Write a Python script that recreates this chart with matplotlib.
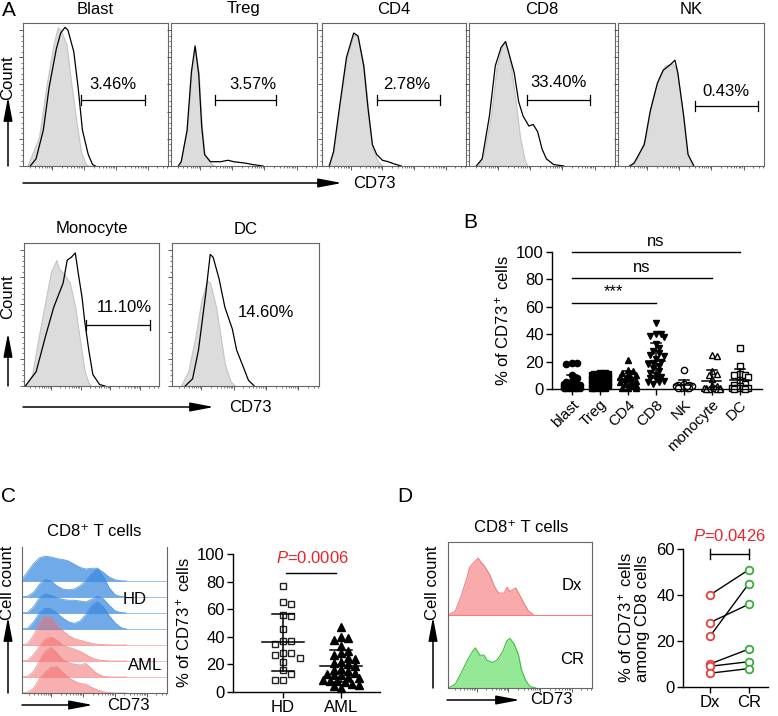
import numpy as np
import matplotlib
matplotlib.use('Agg')
import matplotlib.pyplot as plt

plt.rcParams['font.family'] = ['Liberation Sans', 'DejaVu Sans']
plt.rcParams['mathtext.fontset'] = 'custom'
plt.rcParams['mathtext.rm'] = 'Liberation Sans'
plt.rcParams['mathtext.it'] = 'Liberation Sans:italic'

W, H = 778, 716

# ---- panel A: flow histograms (x, height in % of box) ----
blast_x_iso = [3, 11, 16, 21, 24, 26, 30, 33, 37, 40, 43, 45]
blast_iso = [0, 20, 55, 85, 97, 95, 85, 60, 30, 10, 2, 0]
blast_x_cd73 = [5, 9, 14, 18, 23, 26, 29, 31, 35, 38, 41, 45, 48, 50]
blast_cd73 = [0, 5, 25, 55, 82, 93, 97, 95, 80, 55, 25, 8, 1, 0]

treg_x_iso = [6, 11, 14, 16.5, 19, 21, 23, 27, 30]
treg_iso = [0, 25, 65, 83, 65, 30, 8, 2, 0]
treg_x_cd73 = [5, 7, 11, 14, 16.5, 19, 21, 23, 27, 34, 39, 43, 47, 51, 56, 63]
treg_cd73 = [0, 3, 25, 66, 84, 64, 28, 8, 3, 3, 4, 3, 2.5, 2, 1, 0]

cd4_x_iso = [5, 8, 12, 17, 22, 25, 29, 32, 35, 39, 42]
cd4_iso = [0, 10, 40, 75, 92, 90, 70, 40, 12, 3, 0]
cd4_x_cd73 = [5, 8, 12, 17, 22, 25, 29, 32, 35, 38, 42, 46, 50, 55]
cd4_cd73 = [0, 10, 40, 76, 93, 91, 70, 40, 15, 8, 4, 3, 1.5, 0]

cd8_x_iso = [6, 10, 15, 19, 23, 25, 28, 32, 35, 38, 40]
cd8_iso = [0, 8, 35, 70, 85, 87, 75, 45, 20, 5, 0]
cd8_x_cd73 = [5, 9, 14, 18, 22, 25, 27, 31, 34, 37, 41, 44, 47, 50, 53, 58, 65]
cd8_cd73 = [0, 5, 35, 70, 83, 87, 80, 65, 45, 35, 28, 29, 24, 12, 5, 1, 0]

nk_x_iso = [8, 13, 19, 23, 28, 32, 37, 40, 44, 47, 51]
nk_iso = [0, 5, 20, 45, 62, 70, 72, 68, 40, 10, 0]
nk_x_cd73 = [8, 11, 18, 22, 27, 31, 36, 39, 41, 45, 48, 52]
nk_cd73 = [0, 2, 15, 38, 58, 67, 71, 74, 65, 35, 8, 0]

mono_x_iso = [1, 6, 11, 16, 20, 24, 26, 30, 34, 38, 41, 45, 48, 50]
mono_iso = [0, 8, 35, 60, 80, 88, 82, 78, 72, 55, 35, 10, 2, 0]
mono_x_cd73 = [1, 9, 16, 22, 29, 32, 35, 38, 40, 43, 45, 48, 51, 56, 60]
mono_cd73 = [0, 10, 35, 55, 72, 88, 90, 93, 80, 62, 45, 25, 8, 1, 0]

dc_x_iso = [6, 11, 16, 20, 24, 26, 30, 33, 36, 40, 43]
dc_iso = [0, 10, 35, 60, 74, 72, 55, 35, 15, 3, 0]
dc_x_cd73 = [9, 14, 18, 23, 26, 28, 32, 36, 41, 44, 49, 52, 56]
dc_cd73 = [0, 5, 25, 65, 92, 90, 75, 55, 40, 25, 12, 4, 0]

a_names = ['Blast', 'Treg', 'CD4', 'CD8', 'NK', 'Monocyte', 'DC']
a_pct = ['3.46%', '3.57%', '2.78%', '33.40%', '0.43%', '11.10%', '14.60%']

# ---- panel B ----
b_cats = ['blast', 'Treg', 'CD4', 'CD8', 'NK', 'monocyte', 'DC']
b_blast = [19, 19, 18, 10, 8, 6, 5, 4, 4, 3, 3, 3, 2, 2, 2, 2, 1, 1, 1, 1, 0.5, 0.5, 0.5, 0.5, 1.5]
b_treg = [12, 12, 11, 11, 10, 10, 9, 9, 8, 8, 7, 7, 6, 6, 5, 5, 5, 4, 4, 4, 3, 3, 3, 2, 2, 2, 1, 1, 1, 0.5]
b_cd4 = [21, 14, 13, 12, 11, 10, 9, 8, 7, 6, 5, 5, 4, 3, 2, 1, 1, 0.5]
b_cd8 = [48, 40, 40, 39, 38, 33, 30, 28, 26, 25, 24, 22, 20, 19, 18, 17, 15, 13, 12, 10, 9, 8, 7, 6, 5, 5, 4]
b_nk = [14, 4, 3, 3, 2, 2, 1.5, 1, 1, 0.5, 0.5, 2]
b_mono = [25, 24, 13, 11, 10, 7, 3, 2, 1, 1, 0.5, 0.5, 0.5, 0.3, 0.3, 0.2, 0.2]
b_dc = [30, 17, 11, 10, 10, 9, 5, 4, 3, 2, 1, 1, 0.5, 0.5, 0.3, 0.3]
b_sig = [(6, 100, 'ns'), (5, 81, 'ns'), (3, 63, '***')]

# ---- panel C ----
c_x = [0, 4, 8, 12, 16, 20, 24, 28, 32, 36, 40, 44, 48, 52, 56, 60, 64, 68, 72]
hd1 = [0.1, 0.6, 1.1, 1.45, 1.55, 1.5, 1.4, 1.35, 1.25, 1.05, 0.85, 0.75, 0.8, 0.8, 0.55, 0.25, 0.08, 0.02, 0]
hd2 = [0, 0.05, 0.3, 0.8, 1.1, 1.0, 0.7, 0.5, 0.45, 0.5, 0.7, 1.0, 1.45, 1.75, 1.3, 0.6, 0.15, 0.03, 0]
hd3 = [0, 0.05, 0.4, 0.95, 1.2, 1.1, 0.95, 0.85, 0.8, 0.8, 0.75, 0.7, 0.85, 1.05, 0.9, 0.5, 0.15, 0.03, 0]
hd4 = [0, 0.05, 0.45, 1.0, 1.3, 1.25, 1.0, 0.7, 0.45, 0.35, 0.5, 0.9, 1.45, 1.7, 1.4, 0.85, 0.4, 0.1, 0]
aml1 = [0, 0.1, 0.6, 1.4, 1.8, 1.7, 1.3, 0.9, 0.6, 0.4, 0.3, 0.2, 0.1, 0.05, 0.02, 0, 0, 0, 0]
aml2 = [0, 0.05, 0.4, 0.9, 1.35, 1.5, 1.3, 1.0, 0.85, 0.75, 0.6, 0.4, 0.2, 0.08, 0.03, 0, 0, 0, 0]
aml3 = [0, 0.05, 0.35, 1.0, 1.6, 1.85, 1.5, 1.1, 0.9, 0.8, 0.75, 0.85, 0.5, 0.2, 0.05, 0, 0, 0, 0]
aml4 = [0, 0.05, 0.3, 0.9, 1.3, 1.6, 1.65, 1.3, 0.95, 0.75, 0.6, 0.55, 0.35, 0.2, 0.08, 0.02, 0, 0, 0]
c_hd = [37, 9, 77, 65, 64, 56, 55, 46, 37, 35, 28, 28, 27, 25, 22, 16, 13, 8.5]
c_aml = [47, 40, 39, 38, 33, 30, 28, 27, 25, 24, 22, 21, 20, 19, 17, 16, 15, 14, 13, 12, 12,
         11, 10, 9, 8, 8, 7, 6, 5, 4, 3]

# ---- panel D ----
d_x_dx = [0, 5, 9, 13, 15, 17, 21, 23, 25, 29, 32, 35, 39, 41, 43, 47, 49, 53, 56, 59]
d_dx = [0, 0.05, 0.25, 0.5, 0.65, 0.7, 0.78, 0.72, 0.68, 0.55, 0.4, 0.3, 0.3, 0.38, 0.32, 0.37, 0.3, 0.15, 0.05, 0.01]
d_x_cr = [0, 5, 9, 14, 17, 19, 22, 25, 27, 31, 34, 38, 41, 43, 46, 49, 51, 54, 57, 61]
d_cr = [0, 0.05, 0.2, 0.4, 0.5, 0.55, 0.45, 0.45, 0.38, 0.35, 0.38, 0.5, 0.65, 0.68, 0.6, 0.45, 0.25, 0.1, 0.02, 0]
d_pre = [40, 28, 22, 10, 9, 6]
d_post = [51, 36, 45, 16.5, 11, 8]

FS = 12
fig = plt.figure(figsize=(W / 100, H / 100), dpi=100)


def px_axes(x0, y0, x1, y1):
    return fig.add_axes([x0 / W, 1 - y1 / H, (x1 - x0) / W, (y1 - y0) / H])


def flow_box(ax, ymax=100, top=True):
    ax.set_xlim(0, 100)
    ax.set_ylim(0, ymax)
    for s in ax.spines.values():
        s.set_color('#666')
        s.set_linewidth(0.8)
    ax.spines['top'].set_visible(top)
    minors = []
    for d0 in [-2, 20, 42, 64, 86]:
        minors += [d0 + 22 * np.log10(k) for k in range(2, 10)]
    ax.set_xticks([20, 42, 64, 86])
    ax.set_xticks([m for m in minors if 0 < m < 100], minor=True)
    ax.set_yticks(np.linspace(0, ymax * 0.95, 6))
    ax.set_yticks(np.linspace(0, ymax * 0.95, 26), minor=True)
    ax.tick_params(which='both', direction='out', length=3, width=0.6, color='#444',
                   labelbottom=False, labelleft=False)
    ax.tick_params(which='minor', length=1.5, width=0.5)


def gate(ax, x0, x1, y):
    ax.plot([x0, x1], [y, y], color='k', lw=0.9)
    ax.plot([x0, x0], [y - 3.5, y + 3.5], color='k', lw=0.9)
    ax.plot([x1, x1], [y - 3.5, y + 3.5], color='k', lw=0.9)


a_boxes = [(23, 23, 168, 166), (171, 23, 317, 166), (322, 23, 466, 166), (469, 23, 615, 166),
           (618, 23, 764, 166), (24, 243, 159, 386), (172, 243, 319, 386)]
a_curves = [(blast_x_iso, blast_iso, blast_x_cd73, blast_cd73),
            (treg_x_iso, treg_iso, treg_x_cd73, treg_cd73),
            (cd4_x_iso, cd4_iso, cd4_x_cd73, cd4_cd73),
            (cd8_x_iso, cd8_iso, cd8_x_cd73, cd8_cd73),
            (nk_x_iso, nk_iso, nk_x_cd73, nk_cd73),
            (mono_x_iso, mono_iso, mono_x_cd73, mono_cd73),
            (dc_x_iso, dc_iso, dc_x_cd73, dc_cd73)]
a_gates = [(40, 84, 46), (30, 72, 46), (38, 82, 46), (40, 83, 46), (53, 96, 42), (46, 93, 43), None]
a_lab = [(62, 52), (56, 52), (59, 52), (61, 53), (74, 47), (74, 50), (64, 46)]

for box, cur, g, lab, pct in zip(a_boxes, a_curves, a_gates, a_lab, a_pct):
    ax = px_axes(*box)
    flow_box(ax)
    ax.fill_between(cur[0], cur[1], color='#dcdcdc', edgecolor='#c4c4c4', lw=0.8)
    ax.plot(cur[2], cur[3], color='k', lw=0.9)
    if g:
        gate(ax, *g)
    ax.text(lab[0], lab[1], pct, ha='center', va='bottom', fontsize=FS)


# ---- scatter helpers ----
def swarm_x(ax, xc, vals, sep, maxoff):
    tr = ax.transData
    placed = []
    xs = []
    x0d = tr.transform((xc, 0))[0]
    lim = abs(tr.transform((xc + maxoff, 0))[0] - x0d)
    for v in vals:
        yd = tr.transform((xc, v))[1]
        best, bestd = x0d, -1
        for k in [0, 1, -1, 2, -2, 3, -3, 4, -4, 5, -5, 6, -6]:
            xd = x0d + k * sep * 0.6
            if abs(xd - x0d) > lim:
                continue
            dmin = min([np.hypot(xd - px, yd - py) for px, py in placed] + [99])
            if dmin >= sep:
                best = xd
                break
            if dmin > bestd:
                best, bestd = xd, dmin
        placed.append((best, yd))
        xs.append(tr.inverted().transform((best, yd))[0])
    return xs


def mean_sd(ax, xc, vals, half=0.34, cap=0.18):
    m = np.mean(vals)
    s = np.std(vals, ddof=1)
    ax.plot([xc - half, xc + half], [m, m], color='k', lw=1.1, zorder=5)
    ax.plot([xc, xc], [max(m - s, 0), m + s], color='k', lw=1.1, zorder=5)
    ax.plot([xc - cap, xc + cap], [m + s, m + s], color='k', lw=1.1, zorder=5)
    if m - s > 0:
        ax.plot([xc - cap, xc + cap], [m - s, m - s], color='k', lw=1.1, zorder=5)


def gp_axes(ax):
    for s in ['top', 'right']:
        ax.spines[s].set_visible(False)
    for s in ['left', 'bottom']:
        ax.spines[s].set_linewidth(1.0)
    ax.tick_params(direction='out', length=4, width=1.0, labelsize=FS, pad=2)


# ---- panel B ----
axb = px_axes(552, 252, 762, 389)
axb.set_xlim(-0.71, 6.79)
axb.set_ylim(0, 100)
gp_axes(axb)
axb.set_yticks([0, 20, 40, 60, 80, 100])
axb.set_xticks(range(7))
axb.set_xticklabels(b_cats, rotation=45, ha='right', rotation_mode='anchor', fontsize=11)
axb.set_ylabel('% of CD73$^+$ cells', fontsize=FS, labelpad=3)
b_groups = [b_blast, b_treg, b_cd4, b_cd8, b_nk, b_mono, b_dc]
b_marks = [('o', 'k'), ('s', 'k'), ('^', 'k'), ('v', 'k'), ('o', 'w'), ('^', 'w'), ('s', 'w')]
for i, (vals, (mk, fc)) in enumerate(zip(b_groups, b_marks)):
    xs = swarm_x(axb, i, vals, 4.5, 0.36)
    axb.plot(xs, vals, mk, ms=4.5, mfc=fc, mec='k', mew=1.0, ls='none', clip_on=False)
    mean_sd(axb, i, vals)
for j, yv, lab in b_sig:
    axb.plot([0, j], [yv, yv], color='k', lw=1.0, clip_on=False)
    axb.text(j / 2, yv + 2.5, lab, ha='center', va='bottom', fontsize=FS)

# ---- panel C ----
axc = px_axes(22, 547, 167, 693)
flow_box(axc, ymax=146 / 16, top=False)
axc.set_yticks([])
axc.set_yticks([], minor=True)
ridges = [hd1, hd2, hd3, hd4, aml1, aml2, aml3, aml4]
for i, h in enumerate(ridges):
    base = 7 - i
    if i < 4:
        fc, ec, alpha = '#3a8ae0', '#3a86d6', 0.72
    else:
        fc, ec, alpha = '#f26d6d', '#ee7d7d', 0.55
    axc.axhline(base, color=ec, lw=0.6, alpha=0.6)
    axc.fill_between(c_x, base, base + np.array(h), color=fc, alpha=alpha, lw=0)
    axc.plot(c_x, base + np.array(h), color=ec, lw=0.6, alpha=0.8)

axc2 = px_axes(233, 554, 380, 692)
axc2.set_xlim(-0.86, 1.67)
axc2.set_ylim(0, 100)
gp_axes(axc2)
axc2.set_yticks([0, 20, 40, 60, 80, 100])
axc2.set_xticks([0, 1])
axc2.set_xticklabels(['HD', 'AML'], fontsize=FS)
axc2.set_ylabel('% of CD73$^+$ cells', fontsize=FS, labelpad=3)
xs = swarm_x(axc2, 0, c_hd, 7.0, 0.32)
axc2.plot(xs, c_hd, 's', ms=5, mfc='w', mec='#222', mew=1.0, ls='none', clip_on=False)
xs = swarm_x(axc2, 1, c_aml, 6.0, 0.32)
axc2.plot(xs, c_aml, '^', ms=5.2, mfc='k', mec='k', ls='none', clip_on=False)
mean_sd(axc2, 0, c_hd, half=0.36, cap=0.19)
mean_sd(axc2, 1, c_aml, half=0.36, cap=0.19)
axc2.plot([0.05, 0.92], [86, 86], color='k', lw=1.0)
axc2.text(0.5, 91, '$P$=0.0006', color='#e8252a', ha='center', va='bottom', fontsize=FS)

# ---- panel D ----
axd = px_axes(448, 542, 592, 688)
flow_box(axd, ymax=2)
axd.set_yticks([])
axd.set_yticks([], minor=True)
axd.axhline(1, color='#f08080', lw=0.8)
axd.fill_between(d_x_dx, 1, 1 + np.array(d_dx), color='#f9aaaa', lw=0)
axd.plot(d_x_dx, 1 + np.array(d_dx), color='#ef7f7f', lw=0.8)
axd.fill_between(d_x_cr, 0, d_cr, color='#95e895', lw=0)
axd.plot(d_x_cr, d_cr, color='#3cbf3c', lw=0.8)

axd2 = px_axes(683, 549, 768, 687)
axd2.set_xlim(-0.69, 1.49)
axd2.set_ylim(0, 60)
gp_axes(axd2)
axd2.set_yticks([0, 20, 40, 60])
axd2.set_xticks([0, 1])
axd2.set_xticklabels(['Dx', 'CR'], fontsize=FS)
axd2.set_ylabel('% of CD73$^+$ cells\namong CD8 cells', fontsize=FS, labelpad=4, linespacing=1.1)
for a, b in zip(d_pre, d_post):
    axd2.plot([0, 1], [a, b], color='k', lw=1.0)
axd2.plot([0] * len(d_pre), d_pre, 'o', ms=5.5, mfc='w', mec='#e8403c', mew=1.3, ls='none')
axd2.plot([1] * len(d_post), d_post, 'o', ms=5.5, mfc='w', mec='#3aad3a', mew=1.3, ls='none',
          clip_on=False)
axd2.plot([0, 1], [58, 58], color='k', lw=1.0, clip_on=False)
axd2.plot([0, 0], [55.5, 60], color='k', lw=1.0, clip_on=False)
axd2.plot([1, 1], [55.5, 60], color='k', lw=1.0, clip_on=False)
axd2.text(0.5, 62, '$P$=0.0426', color='#e8252a', ha='center', va='bottom', fontsize=FS)

# ---- overlay: labels and arrows in pixel coords ----
ov = fig.add_axes([0, 0, 1, 1])
ov.set_xlim(0, W)
ov.set_ylim(H, 0)
ov.axis('off')


def arrow(x0, y0, x1, y1):
    ov.annotate('', xy=(x1, y1), xytext=(x0, y0),
                arrowprops=dict(arrowstyle='-|>,head_length=0.9,head_width=0.17',
                                color='k', lw=1.1, mutation_scale=16, shrinkA=0, shrinkB=0))


for name, box in zip(a_names, a_boxes):
    ov.text((box[0] + box[2]) / 2, box[1] - 14, name, ha='center', va='center', fontsize=FS)

ov.text(9, 10, 'A', fontsize=15, ha='center', va='center')
ov.text(470, 223, 'B', fontsize=15, ha='center', va='center')
ov.text(9, 497, 'C', fontsize=15, ha='center', va='center')
ov.text(405, 497, 'D', fontsize=15, ha='center', va='center')

ov.text(8, 78, 'Count', rotation=90, fontsize=FS, ha='center', va='center')
arrow(8, 166, 8, 97)
arrow(23, 183, 342, 183)
ov.text(374, 183, 'CD73', fontsize=FS, ha='center', va='center')

ov.text(8, 297, 'Count', rotation=90, fontsize=FS, ha='center', va='center')
arrow(8, 386, 8, 333)
arrow(23, 407, 214, 407)
ov.text(250, 407, 'CD73', fontsize=FS, ha='center', va='center')

ov.text(94, 531, 'CD8\u207a T cells', fontsize=FS, ha='center', va='center')
ov.text(8, 583, 'Cell count', rotation=90, fontsize=FS, ha='center', va='center')
arrow(8, 693, 8, 617)
arrow(22, 705, 93, 705)
ov.text(128, 705, 'CD73', fontsize=FS, ha='center', va='center')
ov.text(135, 600, 'HD', fontsize=FS, ha='center', va='center')
ov.text(145, 665, 'AML', fontsize=FS, ha='center', va='center')

ov.text(521, 528, 'CD8\u207a T cells', fontsize=FS, ha='center', va='center')
ov.text(433, 583, 'Cell count', rotation=90, fontsize=FS, ha='center', va='center')
arrow(433, 688, 433, 617)
arrow(447, 700, 520, 700)
ov.text(551, 700, 'CD73', fontsize=FS, ha='center', va='center')
ov.text(572, 585, 'Dx', fontsize=FS, ha='center', va='center')
ov.text(572, 660, 'CR', fontsize=FS, ha='center', va='center')

fig.savefig('out.png', dpi=100)
